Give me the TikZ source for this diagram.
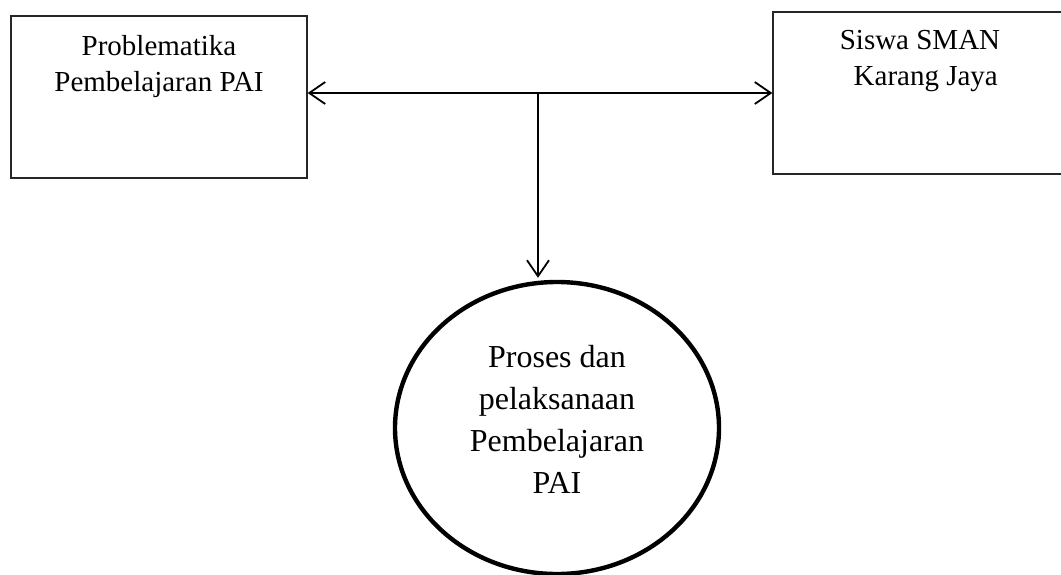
\documentclass[tikz,border=0pt]{standalone}
\usepackage{fontspec}
\setmainfont{Liberation Serif}
\usetikzlibrary{arrows.meta,shapes.geometric}
\begin{document}
\begin{tikzpicture}[x=1pt,y=-1pt,
  boxstyle/.style={draw=black!85, line width=1.3pt, minimum width=#1, minimum height=162pt, inner sep=0pt},
  boxtext/.style={align=center, inner sep=0pt, anchor=north, font=\fontsize{29}{36}\selectfont},
  conn/.style={line width=1.8pt, -{Straight Barb[length=16pt,width=22pt,line width=1.8pt]}},
  conn2/.style={line width=1.8pt, {Straight Barb[length=16pt,width=22pt,line width=1.8pt]}-{Straight Barb[length=16pt,width=22pt,line width=1.8pt]}},
  procstyle/.style={ellipse, draw, line width=4.4pt, minimum width=324pt, minimum height=292pt, inner sep=0pt, align=center, font=\fontsize{32}{42}\selectfont}
]
\useasboundingbox (0,0) rectangle (1061,574);
\node[boxstyle=296pt] (L) at (159,97) {};
\node[boxtext] (Lt) at (159,35) {Problematika\\Pembelajaran PAI};
\node[boxstyle=294pt] (R) at (920,93) {};
\node[boxtext] (Rt) at (920,30) {Siswa SMAN\\\hspace*{0.4em}Karang Jaya};
\node[procstyle] (P) at (557,428) {Proses dan\\pelaksanaan\\Pembelajaran\\PAI\\[-24pt]};
\coordinate (J) at (538,93);
\draw[conn2] (L.east |- J) -- (R.west |- J);
\draw[conn] (J) -- ([yshift=2pt]J |- P.north);
\end{tikzpicture}
\end{document}
